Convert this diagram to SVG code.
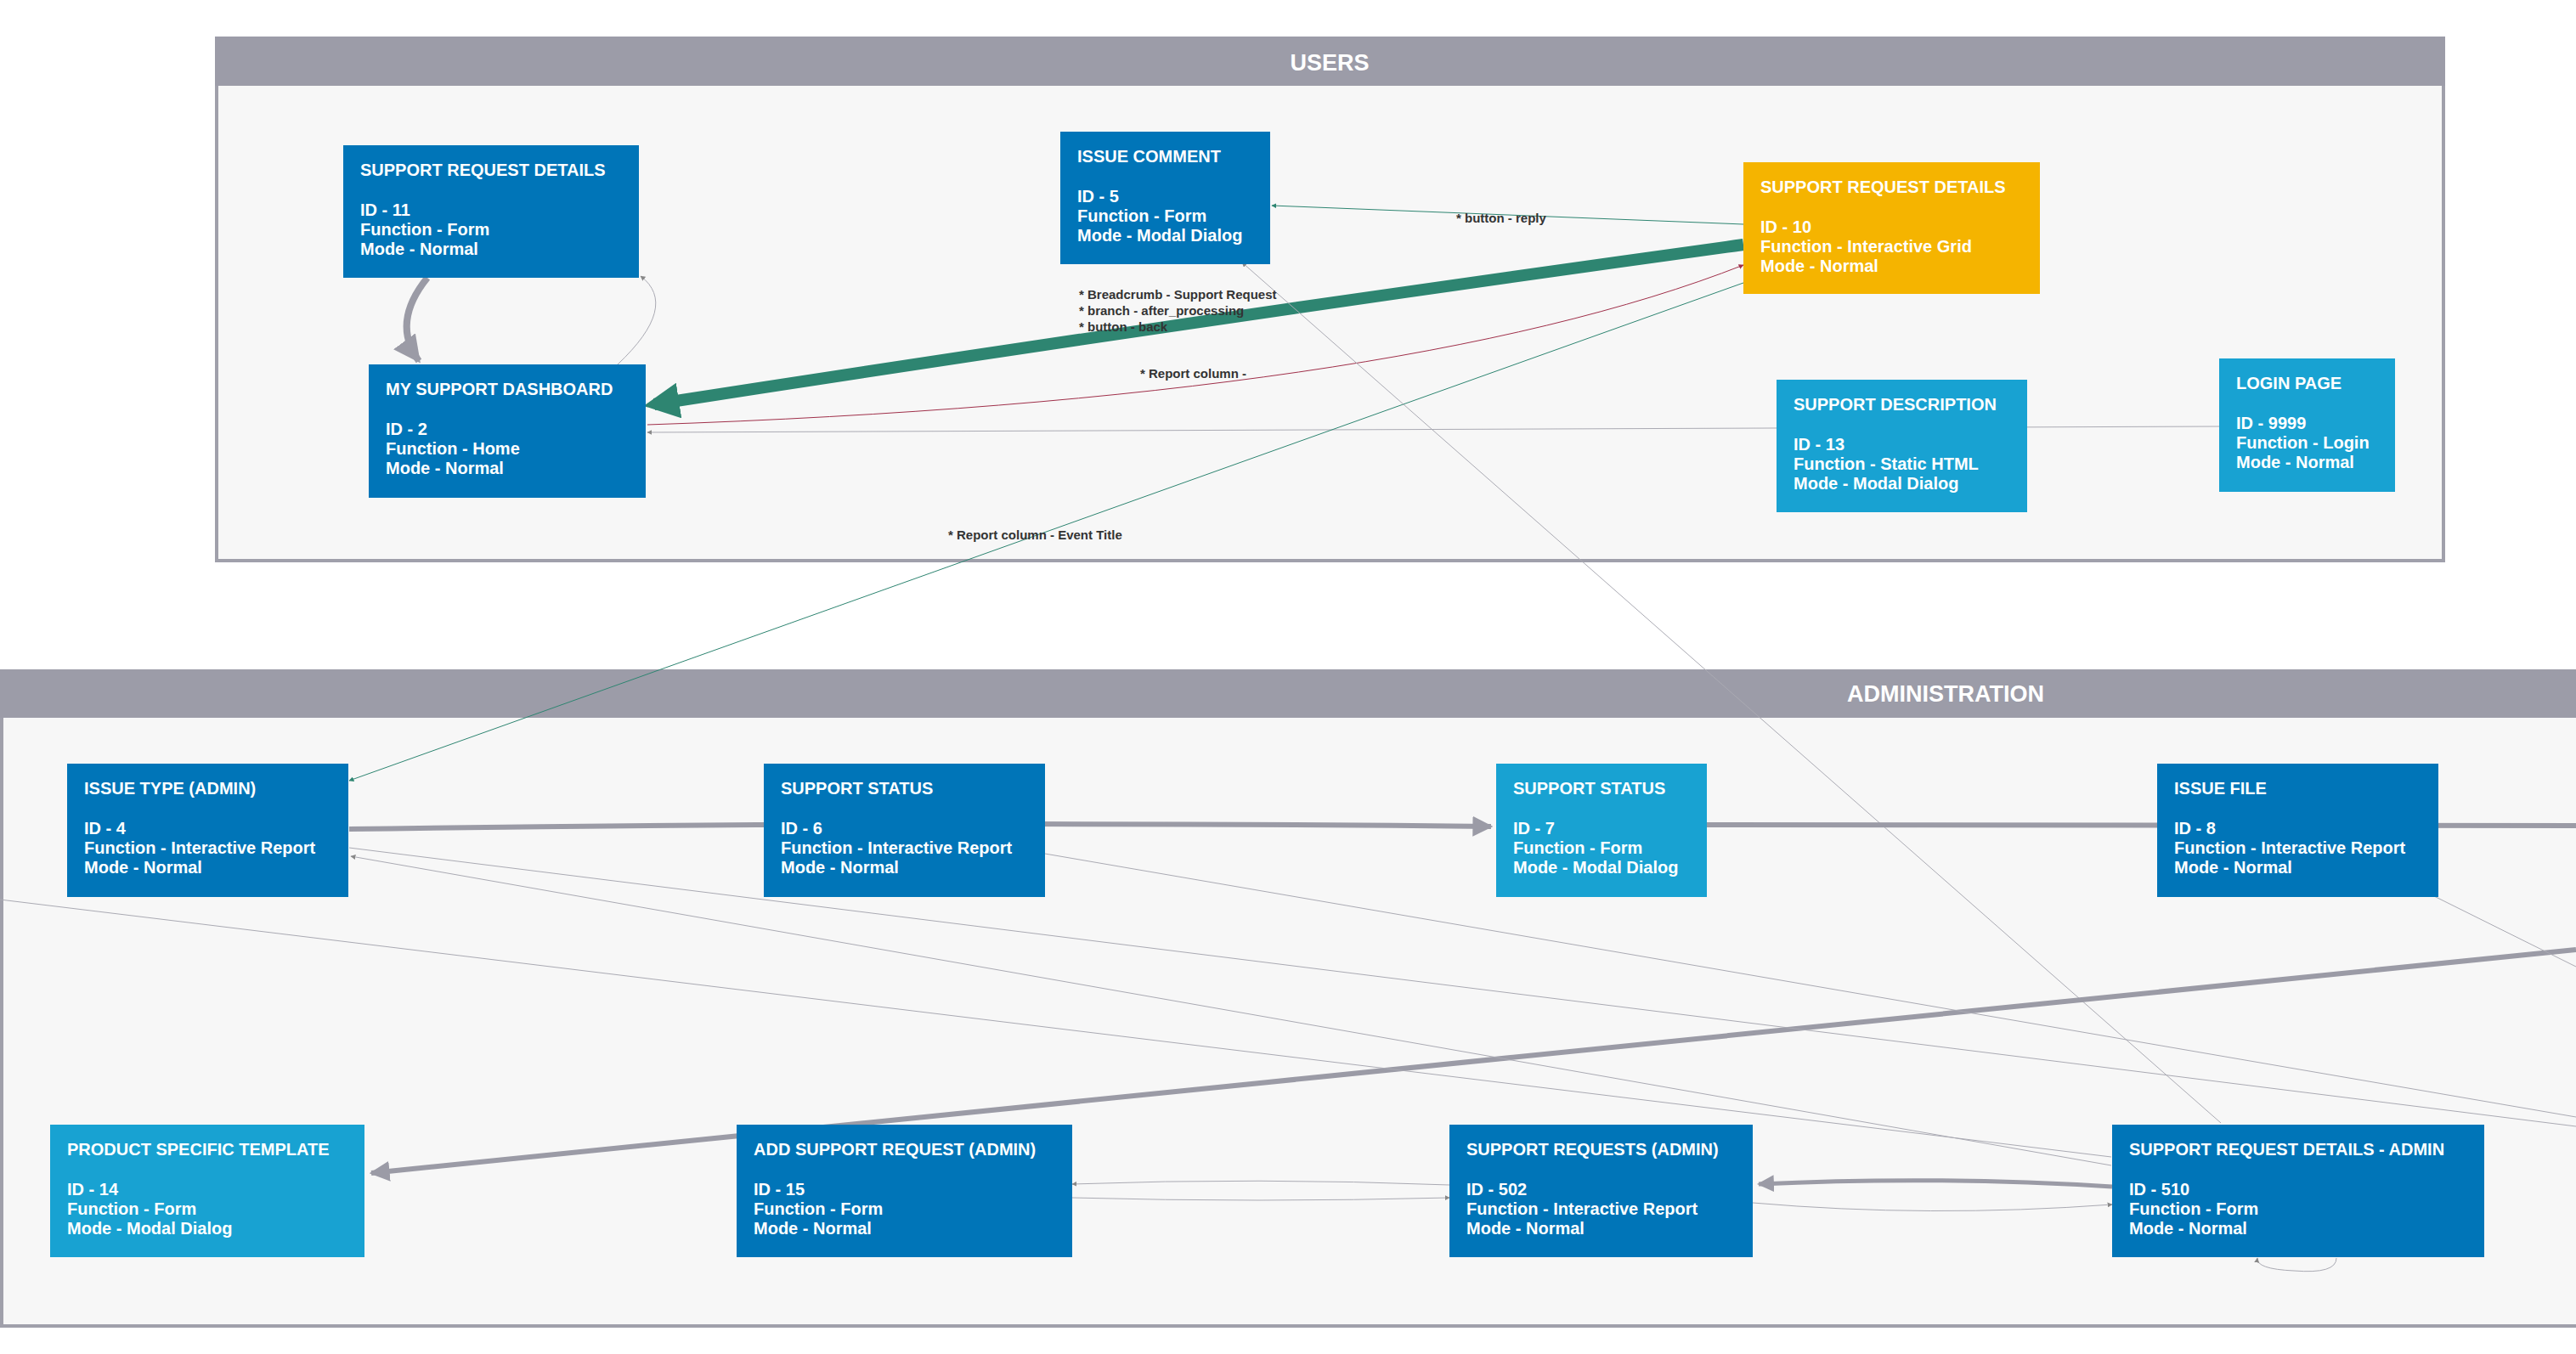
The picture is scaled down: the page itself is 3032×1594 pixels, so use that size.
<svg xmlns="http://www.w3.org/2000/svg" width="3032" height="1594" viewBox="0 0 3032 1594">
<style>
.frame{fill:#f7f7f7;stroke:#a0a0ab;stroke-width:4}
.hdr{fill:#9c9ca8}
.ht{font-family:"Liberation Sans",Arial,sans-serif;font-weight:bold;font-size:27px;fill:#fff;text-anchor:middle}
.dk{fill:#0075b8}
.lt{fill:#18a2d2}
.yl{fill:#f5b400}
.nt{font-family:"Liberation Sans",Arial,sans-serif;font-weight:bold;font-size:20px;fill:#fff}
.lb{font-family:"Liberation Sans",Arial,sans-serif;font-weight:bold;font-size:15px;fill:#333}
.thin{fill:none;stroke:#aaaab3;stroke-width:1}
.g{fill:none;stroke:#9b9ba6}
</style>
<defs>
<marker id="ag" viewBox="0 0 10 10" refX="9" refY="5" markerWidth="6" markerHeight="6" orient="auto"><path d="M0,0L10,5L0,10z" fill="#888"/></marker>
<marker id="agb" viewBox="0 0 10 10" refX="9" refY="5" markerWidth="4" markerHeight="4" orient="auto"><path d="M0,0L10,5L0,10z" fill="#9b9ba6"/></marker>
<marker id="agr" viewBox="0 0 10 10" refX="9" refY="5" markerWidth="6" markerHeight="6" orient="auto"><path d="M0,0L10,5L0,10z" fill="#2e8571"/></marker>
<marker id="agrb" viewBox="0 0 10 10" refX="7" refY="5" markerWidth="3" markerHeight="3" orient="auto"><path d="M0,0L10,5L0,10z" fill="#2e8571"/></marker>
<marker id="ar" viewBox="0 0 10 10" refX="9" refY="5" markerWidth="6" markerHeight="6" orient="auto"><path d="M0,0L10,5L0,10z" fill="#a0304a"/></marker>
</defs>
<rect width="3032" height="1594" fill="#fff"/>
<g id="users">
<rect class="frame" x="255" y="45" width="2621" height="615"/>
<rect class="hdr" x="253" y="43" width="2625" height="58"/>
<text class="ht" x="1565" y="83">USERS</text>
</g>
<g id="administration">
<rect class="frame" x="2" y="790" width="3040" height="771"/>
<rect class="hdr" x="0" y="788" width="3032" height="57"/>
<text class="ht" x="2290" y="826">ADMINISTRATION</text>
</g>
<g id="connectors">
<path class="thin" d="M2612,502 L762,509" marker-end="url(#ag)"/>
<path class="thin" d="M727,429 Q800,360 754,325" marker-end="url(#ag)"/>
<path d="M2052,288 Q1420,375 770,476" fill="none" stroke="#2e8571" stroke-width="14" marker-end="url(#agrb)"/>
<path d="M2052,264 L1497,242" fill="none" stroke="#2e8571" stroke-width="1" marker-end="url(#agr)"/>
<path d="M762,500 Q1650,470 2052,312" fill="none" stroke="#a0304a" stroke-width="1" marker-end="url(#ar)"/>
<path d="M2052,333 L411,919" fill="none" stroke="#2e8571" stroke-width="1" marker-end="url(#agr)"/>
<path class="thin" d="M2614,1322 L1462,309" marker-end="url(#ag)"/>
<path class="g" stroke-width="8" d="M503,327 Q460,380 493,425" marker-end="url(#agb)"/>
<path class="g" stroke-width="6" d="M411,976 Q1100,966 1755,973" marker-end="url(#agb)"/>
<path class="g" stroke-width="6" d="M3032,972 L2009,971"/>
<path class="g" stroke-width="6" d="M3032,1118 L437,1381" marker-end="url(#agb)"/>
<path class="thin" d="M411,998 L3032,1326"/>
<path class="thin" d="M2485,1372 L413,1008" marker-end="url(#ag)"/>
<path class="thin" d="M0,1059 L2485,1362"/>
<path class="thin" d="M1230,1005 L3032,1315"/>
<path class="thin" d="M2865,1055 L3032,1138"/>
<path class="g" stroke-width="5" d="M2486,1397 Q2280,1384 2070,1394" marker-end="url(#agb)"/>
<path class="thin" d="M2063,1416 Q2270,1434 2486,1418" marker-end="url(#ag)"/>
<path class="thin" d="M1706,1395 Q1480,1386 1262,1394" marker-end="url(#ag)"/>
<path class="thin" d="M1262,1410 Q1480,1416 1706,1410" marker-end="url(#ag)"/>
<path class="thin" d="M2750,1481 Q2750,1500 2700,1496 Q2655,1494 2657,1481" marker-end="url(#ag)"/>
<text class="lb" x="1714" y="262">* button - reply</text>
<text class="lb" x="1270" y="352">* Breadcrumb - Support Request</text>
<text class="lb" x="1270" y="371">* branch - after_processing</text>
<text class="lb" x="1270" y="390">* button - back</text>
<text class="lb" x="1342" y="445">* Report column -</text>
<text class="lb" x="1116" y="635">* Report column - Event Title</text>
</g>
<g id="n11"><rect class="dk" x="404" y="171" width="348" height="156"/><text class="nt" x="424" y="207">SUPPORT REQUEST DETAILS</text><text class="nt" x="424" y="254">ID - 11</text><text class="nt" x="424" y="277">Function - Form</text><text class="nt" x="424" y="300">Mode - Normal</text></g>
<g id="n5"><rect class="dk" x="1248" y="155" width="247" height="156"/><text class="nt" x="1268" y="191">ISSUE COMMENT</text><text class="nt" x="1268" y="238">ID - 5</text><text class="nt" x="1268" y="261">Function - Form</text><text class="nt" x="1268" y="284">Mode - Modal Dialog</text></g>
<g id="n2"><rect class="dk" x="434" y="429" width="326" height="157"/><text class="nt" x="454" y="465">MY SUPPORT DASHBOARD</text><text class="nt" x="454" y="512">ID - 2</text><text class="nt" x="454" y="535">Function - Home</text><text class="nt" x="454" y="558">Mode - Normal</text></g>
<g id="n10"><rect class="yl" x="2052" y="191" width="349" height="155"/><text class="nt" x="2072" y="227">SUPPORT REQUEST DETAILS</text><text class="nt" x="2072" y="274">ID - 10</text><text class="nt" x="2072" y="297">Function - Interactive Grid</text><text class="nt" x="2072" y="320">Mode - Normal</text></g>
<g id="n13"><rect class="lt" x="2091" y="447" width="295" height="156"/><text class="nt" x="2111" y="483">SUPPORT DESCRIPTION</text><text class="nt" x="2111" y="530">ID - 13</text><text class="nt" x="2111" y="553">Function - Static HTML</text><text class="nt" x="2111" y="576">Mode - Modal Dialog</text></g>
<g id="n9999"><rect class="lt" x="2612" y="422" width="207" height="157"/><text class="nt" x="2632" y="458">LOGIN PAGE</text><text class="nt" x="2632" y="505">ID - 9999</text><text class="nt" x="2632" y="528">Function - Login</text><text class="nt" x="2632" y="551">Mode - Normal</text></g>
<g id="n4"><rect class="dk" x="79" y="899" width="331" height="157"/><text class="nt" x="99" y="935">ISSUE TYPE (ADMIN)</text><text class="nt" x="99" y="982">ID - 4</text><text class="nt" x="99" y="1005">Function - Interactive Report</text><text class="nt" x="99" y="1028">Mode - Normal</text></g>
<g id="n6"><rect class="dk" x="899" y="899" width="331" height="157"/><text class="nt" x="919" y="935">SUPPORT STATUS</text><text class="nt" x="919" y="982">ID - 6</text><text class="nt" x="919" y="1005">Function - Interactive Report</text><text class="nt" x="919" y="1028">Mode - Normal</text></g>
<g id="n7"><rect class="lt" x="1761" y="899" width="248" height="157"/><text class="nt" x="1781" y="935">SUPPORT STATUS</text><text class="nt" x="1781" y="982">ID - 7</text><text class="nt" x="1781" y="1005">Function - Form</text><text class="nt" x="1781" y="1028">Mode - Modal Dialog</text></g>
<g id="n8"><rect class="dk" x="2539" y="899" width="331" height="157"/><text class="nt" x="2559" y="935">ISSUE FILE</text><text class="nt" x="2559" y="982">ID - 8</text><text class="nt" x="2559" y="1005">Function - Interactive Report</text><text class="nt" x="2559" y="1028">Mode - Normal</text></g>
<g id="n14"><rect class="lt" x="59" y="1324" width="370" height="156"/><text class="nt" x="79" y="1360">PRODUCT SPECIFIC TEMPLATE</text><text class="nt" x="79" y="1407">ID - 14</text><text class="nt" x="79" y="1430">Function - Form</text><text class="nt" x="79" y="1453">Mode - Modal Dialog</text></g>
<g id="n15"><rect class="dk" x="867" y="1324" width="395" height="156"/><text class="nt" x="887" y="1360">ADD SUPPORT REQUEST (ADMIN)</text><text class="nt" x="887" y="1407">ID - 15</text><text class="nt" x="887" y="1430">Function - Form</text><text class="nt" x="887" y="1453">Mode - Normal</text></g>
<g id="n502"><rect class="dk" x="1706" y="1324" width="357" height="156"/><text class="nt" x="1726" y="1360">SUPPORT REQUESTS (ADMIN)</text><text class="nt" x="1726" y="1407">ID - 502</text><text class="nt" x="1726" y="1430">Function - Interactive Report</text><text class="nt" x="1726" y="1453">Mode - Normal</text></g>
<g id="n510"><rect class="dk" x="2486" y="1324" width="438" height="156"/><text class="nt" x="2506" y="1360">SUPPORT REQUEST DETAILS - ADMIN</text><text class="nt" x="2506" y="1407">ID - 510</text><text class="nt" x="2506" y="1430">Function - Form</text><text class="nt" x="2506" y="1453">Mode - Normal</text></g>
</svg>
